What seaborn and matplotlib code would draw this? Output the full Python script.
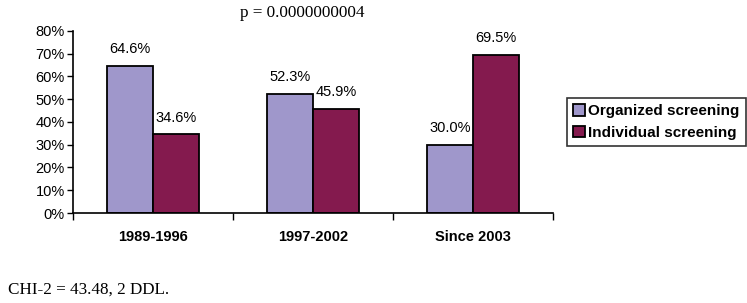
import matplotlib
matplotlib.use("Agg")
import matplotlib.pyplot as plt
import pandas as pd
import seaborn as sns

# data
periods = ["1989-1996", "1997-2002", "Since 2003"]
organized = [64.6, 52.3, 30.0]
individual = [34.6, 45.9, 69.5]
series_names = ["Organized screening", "Individual screening"]

df = pd.DataFrame({
    "period": periods * 2,
    "pct": organized + individual,
    "type": [series_names[0]] * 3 + [series_names[1]] * 3,
})

sns.set_style("white")
plt.rcParams["font.family"] = ["Liberation Sans", "DejaVu Sans"]
plt.rcParams["text.color"] = "black"
plt.rcParams["xtick.color"] = "black"
plt.rcParams["ytick.color"] = "black"

fig = plt.figure(figsize=(7.47, 3.03), dpi=100)
ax = fig.add_axes([0.0977, 0.297, 0.6426, 0.601])

palette = {series_names[0]: "#9F97CB", series_names[1]: "#841A4E"}
sns.barplot(data=df, x="period", y="pct", hue="type", palette=palette,
            width=0.575, gap=0, edgecolor="black", linewidth=1.3,
            saturation=1, ax=ax, legend=True)

# value labels
for cont in ax.containers:
    ax.bar_label(cont, labels=[f"{v:.1f}%" for v in cont.datavalues],
                 padding=7, fontsize=10.5, color="black")

ax.set_ylim(0, 80)
ax.set_xlim(-0.5, 2.5)
ax.set_yticks(range(0, 81, 10))
ax.set_yticklabels([f"{v}%" for v in range(0, 81, 10)], fontsize=10.5)
ax.tick_params(axis="y", direction="out", length=4, width=1, left=True, pad=2)

# boundary ticks on x, labels in the middle
ax.set_xticks([-0.5, 0.5, 1.5, 2.5])
ax.set_xticklabels([])
ax.set_xticks([0, 1, 2], minor=True)
ax.set_xticklabels(periods, minor=True, fontsize=10.5, fontweight="bold")
ax.tick_params(axis="x", which="major", direction="out", length=5, width=1, bottom=True)
ax.tick_params(axis="x", which="minor", length=0, pad=12)
ax.set_xlabel("")
ax.set_ylabel("")

sns.despine(ax=ax)
for s in ["left", "bottom"]:
    ax.spines[s].set_color("black")
    ax.spines[s].set_linewidth(1.2)

leg = ax.legend(loc="upper left", bbox_to_anchor=(0.759, 0.677),
                bbox_transform=fig.transFigure, frameon=True, fancybox=False,
                prop={"weight": "bold", "size": 11}, handlelength=0.75,
                handleheight=0.8, handletextpad=0.25, borderpad=0.4,
                labelspacing=0.5, borderaxespad=0)
leg.get_frame().set_edgecolor("black")
leg.get_frame().set_linewidth(1.2)
for t in leg.get_texts():
    t.set_color("black")

fig.text(0.405, 0.958, "p = 0.0000000004", fontsize=12.3,
         family="Liberation Serif", ha="center", va="center")
fig.text(0.011, 0.043, "CHI-2 = 43.48, 2 DDL.", fontsize=12.3,
         family="Liberation Serif", ha="left", va="center")

fig.savefig("out.png", dpi=100)
